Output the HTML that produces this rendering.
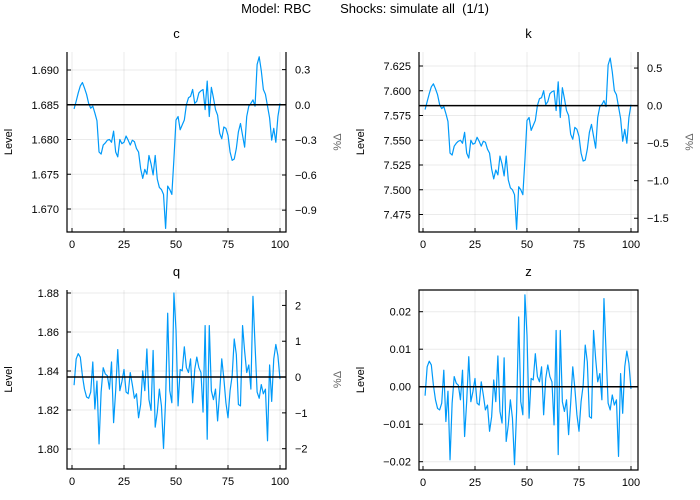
<!DOCTYPE html>
<html><head><meta charset="utf-8"><style>
body{margin:0;background:#fff;}
svg{display:block;font-family:"Liberation Sans","DejaVu Sans",sans-serif;}
</style></head><body>
<svg id="chart" width="700" height="500" viewBox="0 0 700 500">
<text x="365" y="13" text-anchor="middle" font-size="13" fill="#000" xml:space="preserve">Model: RBC        Shocks: simulate all  (1/1)</text>
</svg>
<script>
const xTicks=[0,25,50,75,100];
const cVals=[1.6844,1.6855,1.6867,1.6877,1.6882,1.6874,1.6865,1.6852,1.6845,1.6848,1.6838,1.6827,1.6782,1.6779,1.6792,1.6795,1.6799,1.6800,1.6796,1.6812,1.6782,1.6775,1.6800,1.6794,1.6796,1.6805,1.6799,1.6792,1.6799,1.6797,1.6787,1.6782,1.6758,1.6744,1.6757,1.6750,1.6777,1.6765,1.6749,1.6777,1.6743,1.6731,1.6728,1.6721,1.6672,1.6733,1.6728,1.6721,1.6772,1.6828,1.6833,1.6814,1.6821,1.6828,1.6850,1.6860,1.6862,1.6872,1.6852,1.6855,1.6867,1.6870,1.6872,1.6843,1.6884,1.6833,1.6875,1.6860,1.6843,1.6835,1.6809,1.6801,1.6818,1.6816,1.6806,1.6782,1.6770,1.6772,1.6787,1.6811,1.6823,1.6806,1.6789,1.6833,1.6848,1.6852,1.6857,1.6848,1.6908,1.6919,1.6899,1.6872,1.6865,1.6848,1.6831,1.6799,1.6816,1.6796,1.6833,1.6852];
const kVals=[7.581,7.589,7.597,7.604,7.607,7.602,7.596,7.586,7.582,7.584,7.577,7.569,7.537,7.535,7.544,7.547,7.549,7.550,7.547,7.558,7.537,7.532,7.550,7.546,7.547,7.553,7.549,7.544,7.549,7.548,7.541,7.537,7.521,7.511,7.520,7.515,7.534,7.526,7.514,7.534,7.510,7.502,7.500,7.495,7.460,7.503,7.500,7.495,7.530,7.570,7.573,7.560,7.565,7.570,7.585,7.592,7.593,7.600,7.586,7.589,7.597,7.599,7.600,7.580,7.609,7.573,7.603,7.592,7.580,7.575,7.556,7.551,7.563,7.561,7.554,7.537,7.529,7.530,7.541,7.558,7.566,7.554,7.542,7.573,7.584,7.586,7.590,7.584,7.626,7.633,7.619,7.600,7.596,7.584,7.572,7.549,7.561,7.547,7.573,7.586];
const qVals=[1.8327,1.8462,1.8489,1.8471,1.8376,1.8307,1.8267,1.8260,1.8292,1.8446,1.8205,1.8348,1.8026,1.8292,1.8417,1.8385,1.8376,1.8307,1.8446,1.8135,1.8299,1.8510,1.8299,1.8346,1.8408,1.8292,1.8283,1.8392,1.8330,1.8260,1.8283,1.8160,1.8228,1.8401,1.8299,1.8513,1.8253,1.8198,1.8505,1.8112,1.8189,1.8307,1.8221,1.8003,1.8253,1.8696,1.8299,1.8237,1.8800,1.8610,1.8221,1.8408,1.8401,1.8524,1.8417,1.8392,1.8462,1.8237,1.8408,1.8471,1.8417,1.8392,1.8189,1.8633,1.8050,1.8633,1.8299,1.8253,1.8307,1.8144,1.8292,1.8462,1.8362,1.8237,1.8160,1.8299,1.8376,1.8564,1.8485,1.8228,1.8221,1.8633,1.8501,1.8392,1.8431,1.8307,1.8783,1.8533,1.8292,1.8260,1.8330,1.8283,1.8307,1.8042,1.8431,1.8244,1.8462,1.8536,1.8478,1.8358];
const zVals=[-0.0024,0.0053,0.0068,0.0058,0.0004,-0.0035,-0.0058,-0.0062,-0.0044,0.0044,-0.0093,-0.0012,-0.0195,-0.0044,0.0027,0.0009,0.0004,-0.0035,0.0044,-0.0133,-0.0040,0.0080,-0.0040,-0.0013,0.0022,-0.0044,-0.0049,0.0013,-0.0022,-0.0062,-0.0049,-0.0119,-0.0080,0.0018,-0.0040,0.0082,-0.0066,-0.0097,0.0077,-0.0146,-0.0102,-0.0035,-0.0084,-0.0208,-0.0066,0.0186,-0.0040,-0.0075,0.0245,0.0137,-0.0084,0.0022,0.0018,0.0088,0.0027,0.0013,0.0053,-0.0075,0.0022,0.0058,0.0027,0.0013,-0.0102,0.0150,-0.0181,0.0150,-0.0040,-0.0066,-0.0035,-0.0128,-0.0044,0.0053,-0.0004,-0.0075,-0.0119,-0.0040,0.0004,0.0111,0.0066,-0.0080,-0.0084,0.0150,0.0075,0.0013,0.0035,-0.0035,0.0235,0.0093,-0.0044,-0.0062,-0.0022,-0.0049,-0.0035,-0.0186,0.0035,-0.0071,0.0053,0.0095,0.0062,-0.0006];
const cTicks=[1.670,1.675,1.680,1.685,1.690];
const cPct=[0.3,0.0,-0.3,-0.6,-0.9];
const kTicks=[7.475,7.500,7.525,7.550,7.575,7.600,7.625];
const kPct=[0.5,0.0,-0.5,-1.0,-1.5];
const qTicks=[1.80,1.82,1.84,1.86,1.88];
const qPct=[2,1,0,-1,-2];
const zTicks=[-0.02,-0.01,0.00,0.01,0.02];
const cBase=1.685, kBase=7.585, qBase=1.8369, zBase=0;

const NS="http://www.w3.org/2000/svg";
const svg=document.getElementById('chart');
function mk(tag,attrs,parent){const e=document.createElementNS(NS,tag);for(const k in attrs)e.setAttribute(k,attrs[k]);(parent||svg).appendChild(e);return e;}
function fmt(v,d){const s=Math.abs(v).toFixed(d);return (v<0&&parseFloat(s)!==0?'\u2212':'')+s;}

function panel(o){
  const g=mk('g',{});
  
  
  const sx=x=>o.x0+(x-0)*(o.x100-o.x0)/100;
  const sy=v=>o.ya+(v-o.va)*(o.yb-o.ya)/(o.vb-o.va);
  xTicks.forEach(t=>{const l=mk('line',{x1:sx(t),x2:sx(t),y1:o.top,y2:o.bottom,stroke:'#000','stroke-opacity':0.08,'stroke-width':1},g);
    });
  o.ticks.forEach(t=>{const l=mk('line',{x1:o.left,x2:o.right,y1:sy(t),y2:sy(t),stroke:'#000','stroke-opacity':0.08,'stroke-width':1},g);
    });
  const fr=mk('path',{d:o.box?`M${o.left},${o.top}H${o.right}V${o.bottom}H${o.left}Z`:`M${o.left},${o.top}V${o.bottom}H${o.right}V${o.top}`,fill:'none',stroke:'#000','stroke-width':1.2},g);
  
  xTicks.forEach(t=>{mk('line',{x1:sx(t),x2:sx(t),y1:o.bottom,y2:o.bottom-4,stroke:'#000'},g);
    const tx=mk('text',{x:sx(t),y:o.bottom+16,'text-anchor':'middle','font-size':11,fill:'#000'},g);tx.textContent=t;
    });
  o.ticks.forEach(t=>{mk('line',{x1:o.left,x2:o.left+4,y1:sy(t),y2:sy(t),stroke:'#000'},g);
    const tx=mk('text',{x:o.left-8,y:sy(t)+4,'text-anchor':'end','font-size':11,fill:'#000'},g);tx.textContent=fmt(t,o.dec);
    });
  if(o.pct){
    const py=p=>sy(o.base*(1+p/100));
    o.pct.forEach(p=>{mk('line',{x1:o.right,x2:o.right-4,y1:py(p),y2:py(p),stroke:'#000'},g);
      const tx=mk('text',{x:o.right+9,y:py(p)+4,'text-anchor':'start','font-size':11,fill:'#000'},g);tx.textContent=fmt(p,o.pdec);
      });
    const pl=mk('text',{x:0,y:0,'text-anchor':'middle','font-size':11,fill:'#666',transform:`translate(${o.right+55},${(o.top+o.bottom)/2}) rotate(-90)`},g);
    pl.textContent='%\u0394';
    
  }
  const yl=mk('text',{x:0,y:0,'text-anchor':'middle','font-size':11,fill:'#000',transform:`translate(${o.left-55},${(o.top+o.bottom)/2}) rotate(-90)`},g);
  yl.textContent='Level';
  
  const tt=mk('text',{x:(o.left+o.right)/2,y:o.top-14,'text-anchor':'middle','font-size':13,fill:'#000'},g);
  tt.textContent=o.name;
  
  const d=o.vals.map((v,i)=>(i?'L':'M')+sx(i+1).toFixed(2)+','+sy(v).toFixed(2)).join('');
  const p=mk('path',{d:d,fill:'none',stroke:'#009af9','stroke-width':1.2,'stroke-linejoin':'round'},g);
  
  const bl=mk('line',{x1:o.left,x2:o.right,y1:sy(o.base),y2:sy(o.base),stroke:'#000','stroke-width':1.5},g);
  
}

panel({name:'c',vals:cVals,ticks:cTicks,pct:cPct,base:cBase,dec:3,pdec:1,left:67,right:286,top:52,bottom:232,x0:72,x100:280,va:1.690,ya:70,vb:1.670,yb:209});
panel({name:'k',vals:kVals,ticks:kTicks,pct:kPct,base:kBase,dec:3,pdec:1,left:419,right:638,top:52,bottom:232,x0:423,x100:631,va:7.625,ya:66,vb:7.475,yb:214.5});
panel({name:'q',vals:qVals,ticks:qTicks,pct:qPct,base:qBase,dec:2,pdec:0,left:67,right:286,top:290,bottom:469,x0:72,x100:280,va:1.88,ya:293,vb:1.80,yb:449});
panel({name:'z',vals:zVals,ticks:zTicks,pct:null,base:zBase,dec:2,box:true,left:419,right:638,top:290,bottom:470,x0:423,x100:631,va:0.02,ya:311.7,vb:-0.02,yb:461.7});
</script>
</body></html>
